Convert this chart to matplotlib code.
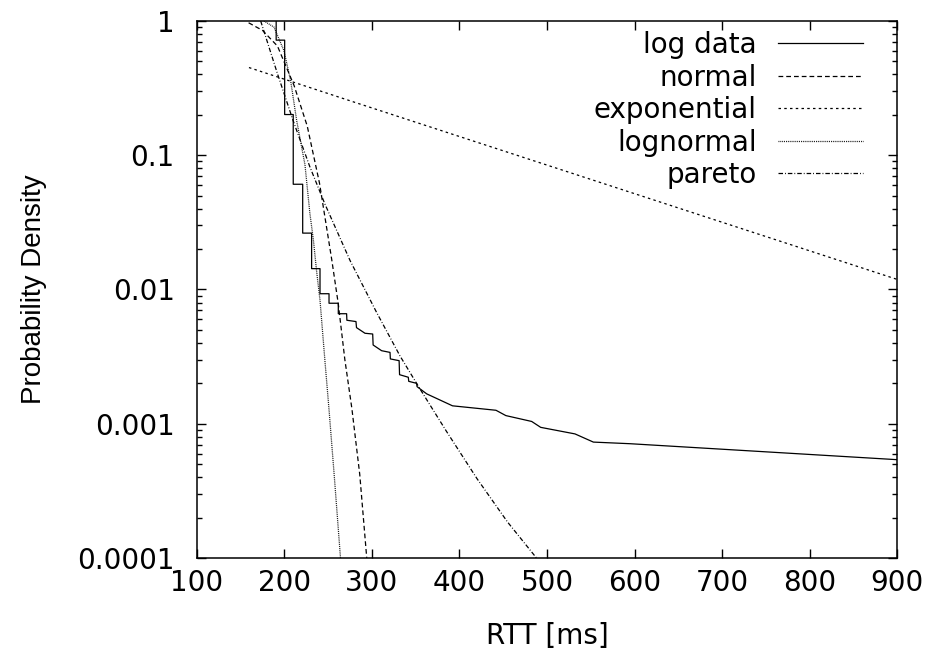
import matplotlib
matplotlib.use("Agg")
import matplotlib.pyplot as plt
from matplotlib.ticker import LogLocator, FixedLocator, NullFormatter

# reference text is wide (gnuplot output), DejaVu Sans gets closest
plt.rcParams['font.family'] = ['DejaVu Sans']

# values (RTT in ms, density)
data_x = [190.5, 190.5, 200.2, 200.2, 210, 210, 220.8, 220.8, 231, 231,
          240.6, 240.6, 250.9, 250.9, 261.5, 261.5, 271, 271.3, 281.7, 282.3,
          292, 300.8, 301.3, 311, 320.6, 321, 331, 331.5, 341.5, 342,
          351, 351.5, 362.5, 392, 441.7, 453, 482.5, 492.8, 532, 553, 595, 900]
data_y = [1.3, 0.72, 0.72, 0.201, 0.201, 0.0608, 0.0608, 0.0263, 0.0263, 0.0143,
          0.0143, 0.0093, 0.0093, 0.0079, 0.0079, 0.0066, 0.0066, 0.0059, 0.00577, 0.0052,
          0.00472, 0.00466, 0.00386, 0.0035, 0.0034, 0.00304, 0.00295, 0.00232, 0.00222, 0.00207,
          0.0020, 0.00189, 0.00167, 0.00136, 0.00126, 0.00115, 0.00104, 0.00094, 0.00084, 0.00073, 0.00071, 0.00054]

normal_x = [159, 175, 192, 211, 226, 240, 254, 261.5, 269, 277, 286, 294]
normal_y = [0.97, 0.85, 0.65, 0.33, 0.165, 0.062, 0.0167, 0.0078, 0.0030, 0.0013, 0.00042, 0.0001]

expo_x = [159.4, 284.3, 900]
expo_y = [0.45, 0.243, 0.0119]

lognorm_x = [176.6, 188, 199.4, 207, 214, 223.4, 229, 233, 236.8, 240.6, 246.3, 251, 257, 264]
lognorm_y = [1.0, 0.9, 0.6, 0.36, 0.18, 0.085, 0.037, 0.0235, 0.0135, 0.0083, 0.0029, 0.00125, 0.0004, 0.0001]

pareto_x = [172.8, 191.7, 210, 229, 246, 275, 305, 332, 353, 385, 420, 455, 488]
pareto_y = [1.0, 0.41, 0.18, 0.082, 0.0436, 0.0164, 0.0068, 0.0032, 0.0019, 0.00088, 0.00039, 0.000185, 0.0001]

fig = plt.figure(figsize=(9.34, 6.62), dpi=100)
ax = fig.add_axes([0.2109, 0.1571, 0.7495, 0.8112])

lw = 0.9
ax.plot(data_x, data_y, color='black', lw=lw, label='log data')
ax.plot(normal_x, normal_y, color='black', lw=lw, dashes=(3.8, 2.4), label='normal')
ax.plot(expo_x, expo_y, color='black', lw=lw, dashes=(2.0, 2.6), label='exponential')
ax.plot(lognorm_x, lognorm_y, color='black', lw=lw, dashes=(0.7, 0.8), label='lognormal')
ax.plot(pareto_x, pareto_y, color='black', lw=lw, dashes=(3.6, 1.6, 0.7, 1.6), label='pareto')

ax.set_yscale('log')
ax.set_xlim(100, 900)
ax.set_ylim(0.0001, 1)

ax.xaxis.set_major_locator(FixedLocator(range(100, 901, 100)))
ax.yaxis.set_major_locator(FixedLocator([0.0001, 0.001, 0.01, 0.1, 1]))
ax.set_yticklabels(['0.0001', '0.001', '0.01', '0.1', '1'])
ax.yaxis.set_minor_locator(LogLocator(base=10, subs=range(2, 10)))
ax.yaxis.set_minor_formatter(NullFormatter())

ax.tick_params(which='both', direction='in', top=True, right=True, labelsize=20, width=1)
ax.tick_params(axis='x', which='major', length=6.5, pad=8)
ax.tick_params(axis='y', which='major', length=6.5, pad=16)
ax.tick_params(which='minor', length=3.5)
for spine in ax.spines.values():
    spine.set_linewidth(1.1)

ax.set_xlabel('RTT [ms]', fontsize=20, labelpad=18)
ax.set_ylabel('Probability Density', fontsize=20, labelpad=22,
              family=['Liberation Sans', 'DejaVu Sans'])

leg = ax.legend(loc='upper right', bbox_to_anchor=(0.951, 0.981), frameon=False,
                fontsize=20, markerfirst=False, handlelength=3.06, handletextpad=0.75,
                labelspacing=0.16, borderaxespad=0, borderpad=0)

fig.savefig('out.png', dpi=100)
